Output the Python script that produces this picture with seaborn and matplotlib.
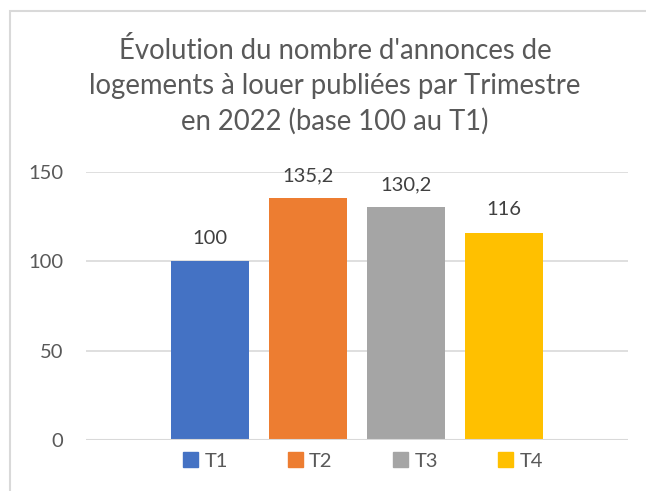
import numpy as np
import matplotlib.pyplot as plt
import pandas as pd
import seaborn as sns
from matplotlib.patches import Rectangle

# Donnees
trimestres = ['T1', 'T2', 'T3', 'T4']
valeurs = [100, 135.2, 130.2, 116]
couleurs = ['#4472C4', '#ED7D31', '#A5A5A5', '#FFC000']
titre = "Évolution du nombre d'annonces de\nlogements à louer publiées par Trimestre\nen 2022 (base 100 au T1)"

sns.set_style('white')
plt.rcParams['font.family'] = ['Lato', 'DejaVu Sans']
gris = '#595959'

df = pd.DataFrame({'trimestre': trimestres, 'valeur': valeurs})

fig = plt.figure(figsize=(6.46, 4.91), dpi=100)
ax = fig.add_axes([86/646, 1 - 440/491, (628-86)/646, (440-172)/491])

sns.barplot(data=df, x='trimestre', y='valeur', hue='trimestre',
            palette=couleurs, width=0.8, saturation=1, legend=False,
            linewidth=0, ax=ax)

ax.set_xlim(-1.265, 4.265)
ax.set_ylim(0, 150)
ax.set_yticks([0, 50, 100, 150])
ax.yaxis.grid(True, color='#d9d9d9', linewidth=1.2)
ax.set_axisbelow(True)
for s in ax.spines.values():
    s.set_visible(False)
ax.axhline(0, color='#d9d9d9', linewidth=1.5)
ax.set_xticks([])
ax.set_xlabel(''); ax.set_ylabel('')
ax.tick_params(axis='y', length=0, pad=16.5, labelsize=14.5, labelcolor=gris)

# etiquettes
for i, v in enumerate(valeurs):
    txt = f'{v:g}'.replace('.', ',')
    ax.text(i, v + 8, txt, ha='center', va='bottom', fontsize=14.5, color='#404040')

fig.text(335/646, 1 - 86/491, titre, ha='center', va='center', fontsize=19.8,
         color=gris, linespacing=1.42)

# legende
handles = [Rectangle((0, 0), 1, 1, color=c) for c in couleurs]
fig.legend(handles, trimestres, loc='center', bbox_to_anchor=(363/646, 1 - 461/491),
           ncol=4, frameon=False, fontsize=14.5, labelcolor=gris,
           handlelength=0.75, handleheight=0.75, handletextpad=0.3, columnspacing=3.0)

# cadre
fig.patches.append(Rectangle((10/646, -0.5), 2, 0.5 + 1 - 11/491, transform=fig.transFigure,
                             fill=False, edgecolor='#d9d9d9', linewidth=1.5))

fig.savefig('out.png', dpi=100)
